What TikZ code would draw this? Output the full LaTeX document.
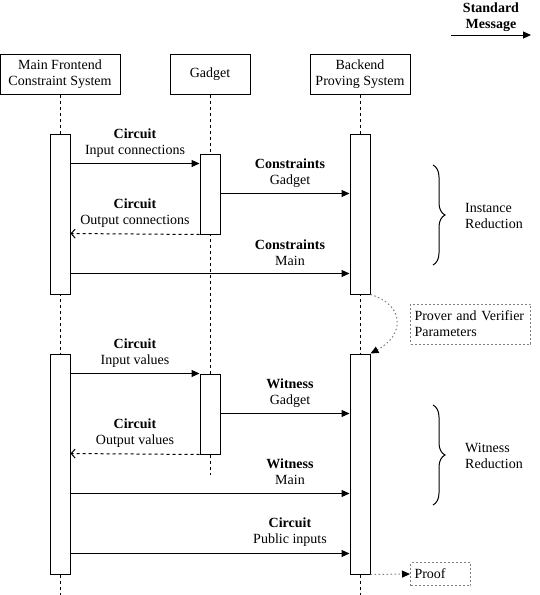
\documentclass[tikz,border=0pt]{standalone}
\usepackage{fontspec}
\setmainfont{Liberation Serif}
\usetikzlibrary{arrows.meta,decorations.pathreplacing}

\begin{document}
\begin{tikzpicture}[x=1pt, y=-1pt,
        font=\fontsize{14}{16}\selectfont,
        lw/.style={line width=1pt},
        header/.style={draw, lw, minimum width=#1, minimum height=40pt, align=center, inner sep=0pt},
        actbox/.style={draw, lw, fill=white, minimum width=20pt, minimum height=#1, inner sep=0pt},
        lifeline/.style={lw, dash pattern=on 3pt off 3pt},
        msg/.style={lw, -{Triangle[length=8pt,width=7pt]}},
        reply/.style={lw, dash pattern=on 3pt off 3pt, -{Straight Barb[length=4pt,width=9pt]}},
        msglabel/.style={align=center, inner sep=0pt},
        sidelabel/.style={align=left, anchor=west, inner sep=0pt},
        note/.style={draw=gray, lw, dash pattern=on 2pt off 2pt, align=left, inner xsep=4pt, inner ysep=0pt, anchor=west},
        dotline/.style={draw=gray, lw, dash pattern=on 1.5pt off 2.5pt, -{Triangle[length=8pt,width=7pt,color=black]}}
    ]
        \useasboundingbox (0,0) rectangle (539,595);

        % Legenda
        \node[msglabel, font=\fontsize{14}{16}\selectfont\bfseries] (legendTxt) at (491,17) {Standard\\Message};
        \coordinate (legS) at (451,35);
        \coordinate (legE) at (531,35);
        \draw[msg] (legS) -- (legE);

        % Hlavicky ucastniku
        \node[header=120pt] (hMain) at (60,74) {\raisebox{-2pt}{\parbox{118pt}{\centering Main Frontend\\Constraint System}}};
        \node[header=80pt] (hGadget) at (210,74) {Gadget};
        \node[header=100pt] (hBackend) at (360,74) {\raisebox{-2pt}{\parbox{98pt}{\centering Backend\\Proving System}}};

        % Zivotni cary
        \coordinate (endM) at (60,595);
        \coordinate (endG) at (210,475);
        \coordinate (endB) at (360,595);
        \draw[lifeline] (hMain.south) -- (endM);
        \draw[lifeline] (hGadget.south) -- (endG);
        \draw[lifeline] (hBackend.south) -- (endB);

        % Aktivace - redukce instance
        \node[actbox=160pt] (actM1) at (60,214) {};
        \node[actbox=80pt] (actG1) at (210,194) {};
        \node[actbox=160pt] (actB1) at (360,214) {};

        % Aktivace - redukce svedka
        \node[actbox=220pt] (actM2) at (60,464) {};
        \node[actbox=80pt] (actG2) at (210,414) {};
        \node[actbox=220pt] (actB2) at (360,464) {};

        % Zpravy - instance
        \draw[msg] ([yshift=-30pt]actM1.north east) -- ([yshift=-10pt]actG1.north west);
        \node[msglabel] (l1) at (135,143) {\textbf{Circuit}\\Input connections};
        \draw[msg] ([yshift=-40pt]actG1.north east) -- ([yshift=-60pt]actB1.north west);
        \node[msglabel] (l2) at (290,173) {\textbf{Constraints}\\Gadget};
        \draw[reply] (actG1.south west) -- ([yshift=-100pt]actM1.north east);
        \node[msglabel] (l3) at (135,213) {\textbf{Circuit}\\Output connections};
        \draw[msg] ([yshift=-140pt]actM1.north east) -- ([yshift=-140pt]actB1.north west);
        \node[msglabel] (l4) at (290,253) {\textbf{Constraints}\\Main};

        % Zpravy - svedek
        \draw[msg] ([yshift=-20pt]actM2.north east) -- (actG2.north west);
        \node[msglabel] (l5) at (135,353) {\textbf{Circuit}\\Input values};
        \draw[msg] ([yshift=-40pt]actG2.north east) -- ([yshift=-60pt]actB2.north west);
        \node[msglabel] (l6) at (290,393) {\textbf{Witness}\\Gadget};
        \draw[reply] (actG2.south west) -- ([yshift=-100pt]actM2.north east);
        \node[msglabel] (l7) at (135,433) {\textbf{Circuit}\\Output values};
        \draw[msg] ([yshift=-140pt]actM2.north east) -- ([yshift=-140pt]actB2.north west);
        \node[msglabel] (l8) at (290,472) {\textbf{Witness}\\Main};
        \draw[msg] ([yshift=-200pt]actM2.north east) -- ([yshift=-200pt]actB2.north west);
        \node[msglabel] (l9) at (290,532) {\textbf{Circuit}\\Public inputs};

        % Slozene zavorky
        \draw[lw, decorate, decoration={brace, amplitude=12pt}] (433,165) -- (433,265);
        \node[sidelabel] (instRed) at (465,215.5) {Instance\\Reduction};
        \draw[lw, decorate, decoration={brace, amplitude=12pt}] (433,405) -- (433,505);
        \node[sidelabel] (witRed) at (465,455.5) {Witness\\Reduction};

        % Parametry a dukaz
        \node[note, text width=112pt, minimum height=40pt] (params) at (410,324) {Prover and Verifier\\Parameters};
        \draw[dotline] (actB1.south east) .. controls (405,305) and (405,335) .. (actB2.north east);
        \node[note, minimum width=60pt, minimum height=23pt, text width=52pt] (proof) at (410,574) {Proof};
        \draw[dotline] (actB2.south east) -- (proof.west);
    \end{tikzpicture}
\end{document}
